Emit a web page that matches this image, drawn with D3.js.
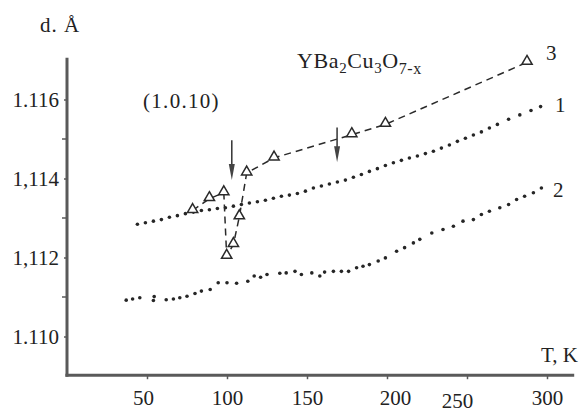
<!DOCTYPE html>
<html>
  <head>
    <style>
      body { margin: 0; background: #fff; }
      text { font-family: "Liberation Serif", "DejaVu Serif", serif; fill: #222; }
    </style>
  </head>
  <body>
    <svg width="582" height="414"></svg>
    <script src="https://d3js.org/d3.v7.min.js"></script>
    <script>

    // curve 1 (upper dotted)
    var t1 = [44, 49, 54, 59, 64, 69, 74, 79, 84, 89, 94, 99, 104, 109, 114, 119, 124, 129, 134, 139,
              144, 149, 154, 159, 164, 169, 174, 179, 184, 189, 194, 199, 204, 209, 214, 219, 224, 229,
              234, 239, 244, 249, 254, 259, 264, 269, 276, 283, 290, 296];
    var d1 = [1.11284, 1.11288, 1.11292, 1.11296, 1.11302, 1.11306, 1.11311, 1.11315, 1.11319, 1.11321,
              1.11324, 1.11326, 1.11330, 1.11334, 1.11338, 1.11341, 1.11345, 1.11350, 1.11355, 1.11358,
              1.11362, 1.11368, 1.11376, 1.11381, 1.11386, 1.11391, 1.11396, 1.11403, 1.11410, 1.11418,
              1.11425, 1.11433, 1.11440, 1.11446, 1.11452, 1.11457, 1.11463, 1.11469, 1.11477, 1.11485,
              1.11494, 1.11502, 1.11510, 1.11518, 1.11528, 1.11537, 1.11550, 1.11561, 1.11572, 1.11582];

    // curve 2 (lower dotted)
    var t2 = [37, 41, 45.5, 54, 54.5, 62, 66.5, 70.5, 75, 80, 84, 89.5, 94.5, 100, 106, 113, 117, 121, 125,
              133, 137, 142.5, 146.5, 153, 158, 161, 166.5, 171.5, 176, 181, 185, 189, 194.5, 199, 206,
              211, 216.5, 220.5, 228, 235, 241.5, 247.5, 254, 259, 264, 270.5, 276, 281, 286, 291.5, 296.5];
    var d2 = [1.11092, 1.11095, 1.11098, 1.11091, 1.11101, 1.11093, 1.11095, 1.11098, 1.11102, 1.11109,
              1.11115, 1.11119, 1.11136, 1.11136, 1.11135, 1.11140, 1.11153, 1.11150, 1.11157,
              1.11160, 1.11161, 1.11165, 1.11157, 1.11161, 1.11153, 1.11163, 1.11165, 1.11165, 1.11165,
              1.11174, 1.11178, 1.11182, 1.11191, 1.11199, 1.11216, 1.11225, 1.11237, 1.11246, 1.11262,
              1.11271, 1.11279, 1.11292, 1.11296, 1.11309, 1.11317, 1.11326, 1.11334, 1.11347, 1.11355,
              1.11364, 1.11376];

    // curve 3 (triangles, dashed)
    var t3 = [78.5, 89, 98, 99.8, 104, 107.7, 112.3, 129.4, 178, 199, 287.5];
    var d3v = [1.11319, 1.11349, 1.11364, 1.11203, 1.11233, 1.11303, 1.11414, 1.11452, 1.11511, 1.11537, 1.11694];

    // arrows marking transitions: T, d at top, d at tip
    var arrowT = [103, 168.8];
    var arrowFrom = [1.11497, 1.11529];
    var arrowTo = [1.11396, 1.11441];

    var xTicks = [50, 100, 150, 200, 250, 300];
    var yTicks = [1.116, 1.114, 1.112, 1.110];
    var yTickLabels = ["1.116", "1,114", "1,112", "1.110"];
    var yMinor = [1.115, 1.113, 1.111];

    var svg = d3.select("svg");

    var x = d3.scaleLinear().domain([0, 320]).range([67, 579]);
    var y = d3.scaleLinear().domain([1.109, 1.117]).range([376, 60]);

    var axisColor = "#5a5a5a";

    // axes frame
    svg.append("line")
        .attr("x1", x(0)).attr("x2", x(0))
        .attr("y1", y(1.10898)).attr("y2", y(1.11706))
        .attr("stroke", axisColor).attr("stroke-width", 3);
    svg.append("line")
        .attr("x1", x(-1)).attr("x2", x(317))
        .attr("y1", y(1.10902)).attr("y2", y(1.10902))
        .attr("stroke", axisColor).attr("stroke-width", 3);

    var xAxis = d3.axisBottom(x).tickValues(xTicks).tickSize(4).tickPadding(6);
    var gx = svg.append("g")
        .attr("transform", "translate(0," + y(1.10902) + ")")
        .call(xAxis);
    gx.select(".domain").remove();
    gx.selectAll("line").attr("stroke", axisColor).attr("stroke-width", 1.5);
    gx.selectAll("text")
        .attr("font-size", 21)
        .attr("fill", "#222")
        .attr("font-family", "Liberation Serif")
        .attr("dx", function(d) { return d === 200 ? 8 : d === 250 ? -10 : d === 50 ? -4 : 0; })
        .attr("dy", function(d) { return d === 250 ? "1.1em" : "0.95em"; });

    var yAxis = d3.axisLeft(y).tickValues(yTicks)
        .tickFormat(function(d, i) { return yTickLabels[i]; })
        .tickSize(3).tickPadding(5);
    var gy = svg.append("g")
        .attr("transform", "translate(" + x(0) + ",0)")
        .call(yAxis);
    gy.select(".domain").remove();
    gy.selectAll("line").attr("stroke", axisColor).attr("stroke-width", 1.5);
    gy.selectAll("text")
        .attr("font-size", 21)
        .attr("fill", "#222")
        .attr("font-family", "Liberation Serif");

    svg.append("g").selectAll("line")
        .data(yMinor).enter().append("line")
        .attr("x1", x(0) - 5).attr("x2", x(0))
        .attr("y1", function(d) { return y(d); })
        .attr("y2", function(d) { return y(d); })
        .attr("stroke", axisColor).attr("stroke-width", 1.5);

    // dotted curves
    var dot = "#262626";
    svg.append("g").selectAll("circle")
        .data(t1.map(function(t, i) { return [t, d1[i]]; }))
        .enter().append("circle")
        .attr("cx", function(d) { return x(d[0]); })
        .attr("cy", function(d) { return y(d[1]); })
        .attr("r", 1.8)
        .attr("fill", dot);

    svg.append("g").selectAll("circle")
        .data(t2.map(function(t, i) { return [t, d2[i]]; }))
        .enter().append("circle")
        .attr("cx", function(d) { return x(d[0]); })
        .attr("cy", function(d) { return y(d[1]); })
        .attr("r", 1.8)
        .attr("fill", dot);

    // dashed curve with triangles
    var pts3 = t3.map(function(t, i) { return [t, d3v[i]]; });
    var line = d3.line()
        .x(function(d) { return x(d[0]); })
        .y(function(d) { return y(d[1]); });

    svg.append("path")
        .attr("d", line(pts3))
        .attr("fill", "none")
        .attr("stroke", "#2a2a2a")
        .attr("stroke-width", 1.5)
        .attr("stroke-dasharray", "7,5");

    svg.append("g").selectAll("path")
        .data(pts3).enter().append("path")
        .attr("d", d3.symbol(d3.symbolTriangle, 46))
        .attr("transform", function(d) { return "translate(" + x(d[0]) + "," + (y(d[1]) - 1) + ")"; })
        .attr("fill", "#fff")
        .attr("stroke", "#2a2a2a")
        .attr("stroke-width", 1.5);

    // arrows
    arrowT.forEach(function(t, i) {
      var ax = x(t), top = y(arrowFrom[i]), tip = y(arrowTo[i]);
      svg.append("line")
          .attr("x1", ax).attr("x2", ax)
          .attr("y1", top).attr("y2", tip - 10)
          .attr("stroke", "#333").attr("stroke-width", 1.5);
      svg.append("path")
          .attr("d", "M" + (ax - 3) + "," + (tip - 16) + "L" + (ax + 3) + "," + (tip - 16) + "L" + ax + "," + tip + "Z")
          .attr("fill", "#444");
    });

    // text
    svg.append("text").attr("x", 40).attr("y", 32).attr("font-size", 21).attr("letter-spacing", 1).text("d. Å");

    var title = svg.append("text").attr("x", 297).attr("y", 68).attr("font-size", 22).attr("letter-spacing", 0.6);
    title.append("tspan").text("YBa");
    title.append("tspan").attr("dy", 5).attr("font-size", 15).text("2");
    title.append("tspan").attr("dy", -5).text("Cu");
    title.append("tspan").attr("dy", 5).attr("font-size", 15).text("3");
    title.append("tspan").attr("dy", -5).text("O");
    title.append("tspan").attr("dy", 6).attr("font-size", 16).text("7-x");

    svg.append("text").attr("x", 143).attr("y", 108).attr("font-size", 21)
        .attr("letter-spacing", 1.3).text("(1.0.10)");

    svg.append("text").attr("x", 578).attr("y", 362).attr("font-size", 21)
        .attr("text-anchor", "end").text("T, K");

    svg.append("text").attr("x", 546).attr("y", 60).attr("font-size", 21).text("3");
    svg.append("text").attr("x", 555).attr("y", 112).attr("font-size", 21).text("1");
    svg.append("text").attr("x", 553).attr("y", 197).attr("font-size", 21).text("2");

    </script>
  </body>
</html>
